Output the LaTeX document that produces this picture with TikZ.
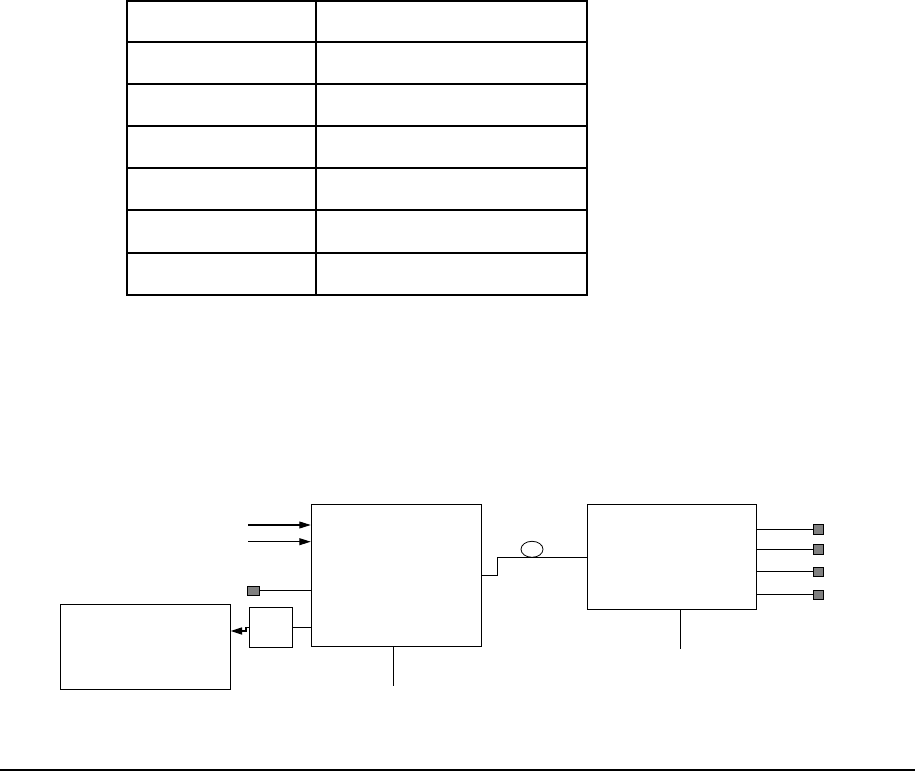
\documentclass[tikz,border=0pt]{standalone}
\usetikzlibrary{shapes.geometric,arrows.meta}
\begin{document}
\begin{tikzpicture}[x=0.75pt,y=-0.75pt,
  thin line/.style={line width=0.8pt},
  thick line/.style={line width=1.6pt},
  box/.style={draw,line width=0.8pt,rectangle,inner sep=0pt,fill=white},
  port/.style={draw,line width=0.6pt,rectangle,inner sep=0pt,fill=black!50,minimum width=7.5pt,minimum height=7.2pt},
  inarrow/.style={line width=0.8pt,-{Triangle[length=8.6pt,width=5.2pt]}},
  outarrow/.style={line width=0.8pt,-{Triangle[length=8.4pt,width=5.4pt]}}]
\useasboundingbox (0,0) rectangle (915,771);
% table
\draw[thin line] (127,42) -- (587,42) (127,84) -- (587,84) (127,126) -- (587,126)
  (127,168) -- (587,168) (127,210) -- (587,210);
\draw[thick line] (127,253) -- (587,253);
\draw[thick line] (316,1) -- (316,295);
\draw[thick line] (127,1) rectangle (587,295);
% blocks
\node[box,minimum width=127.5pt,minimum height=106.3pt] (b1) at (396.3,575.2) {};
\node[box,minimum width=126.75pt,minimum height=78.5pt] (b2) at (671.8,556.7) {};
\node[box,minimum width=127.5pt,minimum height=63.75pt] (lb) at (145.3,646.8) {};
\node[box,minimum width=32.25pt,minimum height=29.8pt] (sb) at (270.8,627.2) {};
\node[port,minimum width=8.8pt,minimum height=6.75pt] (p0) at (253.2,590.8) {};
\node[port] (o1) at (818.3,529.3) {};
\node[port] (o2) at (818.3,549.3) {};
\node[port] (o3) at (818.3,571.7) {};
\node[port] (o4) at (818.3,594.7) {};
\node[draw,ellipse,line width=0.6pt,inner sep=0pt,minimum width=16.5pt,minimum height=12pt] (el) at (532,549.3) {};
% input arrows
\coordinate (i1) at (248,525);
\coordinate (i2) at (248,541.7);
\draw[inarrow] (i1) -- (i1 -| b1.west);
\draw[inarrow] (i2) -- (i2 -| b1.west);
% port to block1
\draw[thin line] (p0.east) -- (p0.east -| b1.west);
% small box to block1
\draw[thin line] (sb.east) -- (sb.east -| b1.west);
% small box to left box
\coordinate (sk) at (246,631);
\draw[outarrow] (sb.west) -| (sk) -- (sk -| lb.east);
% block1 to block2
\coordinate (k) at (497.3,575.3);
\draw[thin line] (k -| b1.east) -- (k) |- (el.south) -- (el.south -| b2.west);
% outputs
\foreach \o in {o1,o2,o3,o4}
  \draw[thin line] (\o.west -| b2.east) -- (\o.west);
% stubs
\coordinate (s1) at (393.3,685.7);
\coordinate (s2) at (680.3,649.3);
\draw[thin line] (s1 |- b1.south) -- (s1);
\draw[thin line] (s2 |- b2.south) -- (s2);
% bottom rule
\coordinate (r0) at (0,770);
\coordinate (r1) at (915,770);
\draw[line width=1.2pt] (r0) -- (r1);
\end{tikzpicture}
\end{document}
